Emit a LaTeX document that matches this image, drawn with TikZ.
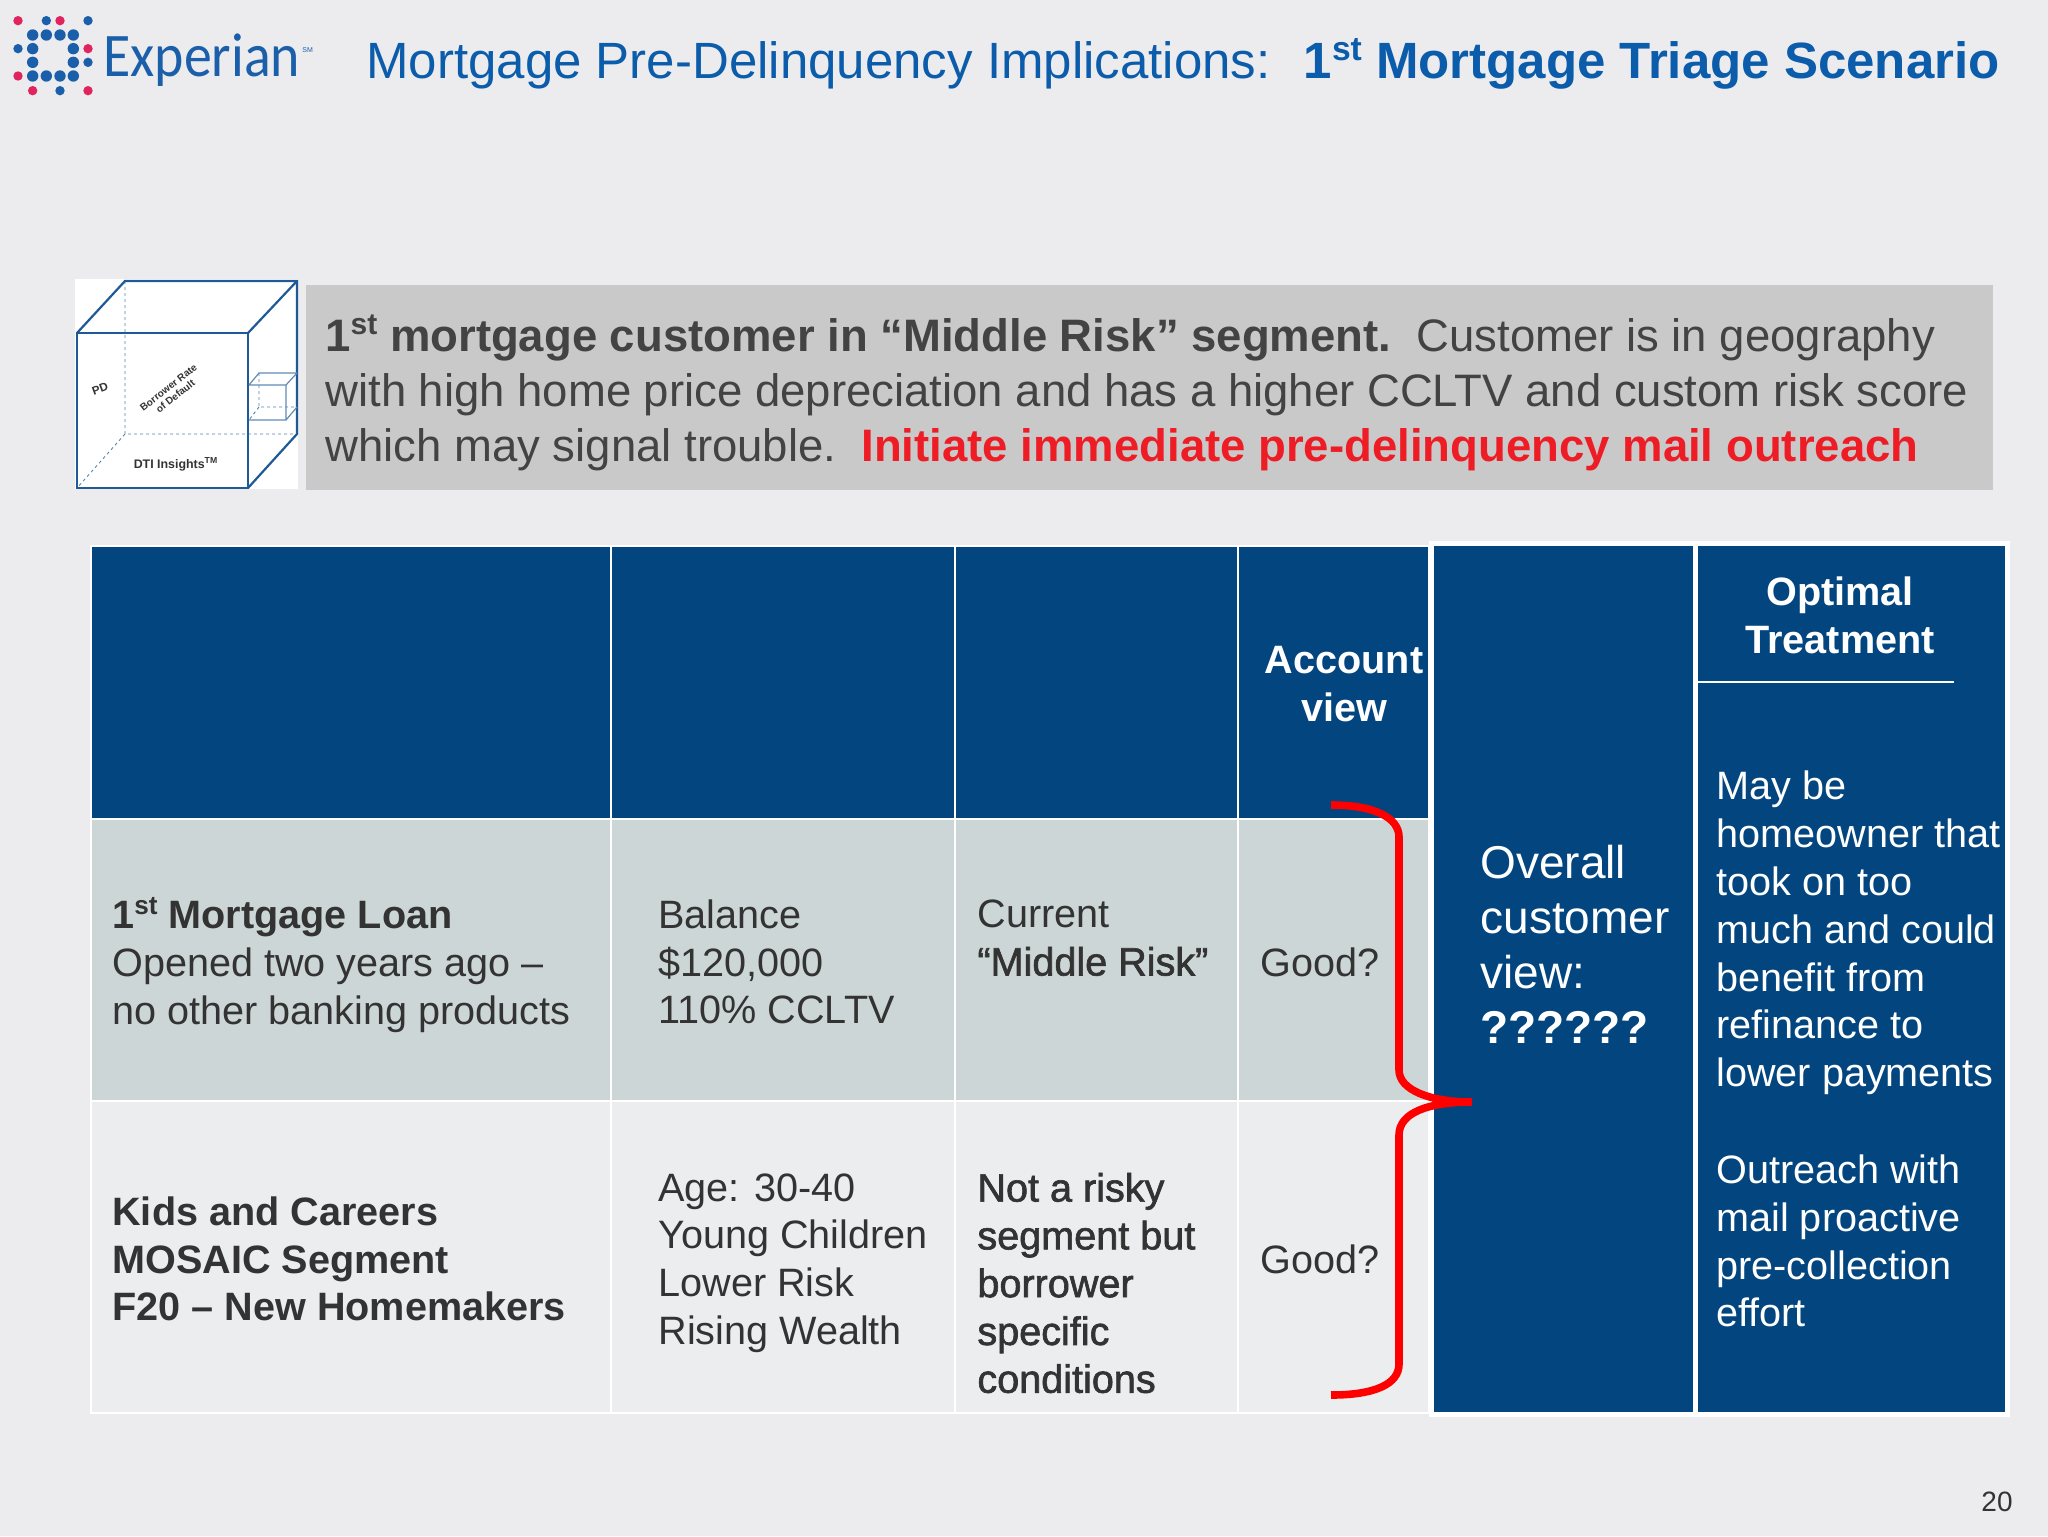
\documentclass[tikz,border=0pt]{standalone}
\usepackage{fontspec}
\usepackage{graphicx}
\setmainfont{Liberation Sans}
\newfontfamily\fakeb[FakeBold=1.6]{Liberation Sans}
\newfontfamily\logof{Carlito}
\usetikzlibrary{calc}
\definecolor{bgc}{HTML}{ECECEE}
\definecolor{navy}{HTML}{03457F}
\definecolor{bannerc}{HTML}{C9C9CA}
\definecolor{rowa}{HTML}{CDD6D6}
\definecolor{rowb}{HTML}{ECEDEF}
\definecolor{txt}{HTML}{333333}
\definecolor{ttl}{HTML}{0B5CAB}
\definecolor{logob}{HTML}{1B5FAA}
\definecolor{logor}{HTML}{E0245E}
\definecolor{cube}{HTML}{1F5A96}
\definecolor{redt}{HTML}{EE1C25}
\newcommand{\sts}[1]{\raisebox{0.36em}{\scalebox{0.66}{#1}}}
\tikzset{
 x=0.5pt,y=-0.5pt,
 cell/.style={draw=white,line width=1.4pt},
 tbl/.style={anchor=west,align=left,inner sep=0,text=txt,font=\fontsize{19.8}{23.9}\selectfont},
 hdr/.style={anchor=center,align=center,inner sep=0,text=white,font=\fontsize{19.8}{23.9}\selectfont\bfseries},
 wht/.style={anchor=west,align=left,inner sep=0,text=white,font=\fontsize{19.8}{23.9}\selectfont},
 big/.style={anchor=west,align=left,inner sep=0,text=white,font=\fontsize{23}{27.5}\selectfont},
 ban/.style={anchor=west,align=left,inner sep=0,text=txt!92!white,font=\fontsize{22.75}{27.5}\selectfont},
 bluedot/.style={fill=logob,draw=none,circle,inner sep=0,minimum size=#1},
 reddot/.style={fill=logor,draw=none,circle,inner sep=0,minimum size=4.7pt},
 cubeline/.style={draw=cube,line width=1.1pt},
 cubethin/.style={draw=cube!70!white,line width=0.6pt},
 cubedash/.style={draw=cube!75!white,line width=0.45pt,dash pattern=on 1.5pt off 1.5pt},
 brace/.style={draw=red,line width=3.8pt},
}
\begin{document}
\begin{tikzpicture}
\useasboundingbox (0,0) rectangle (2048,1536);
\fill[bgc] (0,0) rectangle (2048,1536);
% logo
\foreach \a/\b [count=\i] in {98/105,139/105,180/105,220/105,98/146,220/146,98/187,220/187,98/228,139/228,180/228,220/228}
  \node[bluedot=5.7pt] (lb\i) at ({\a/3},{\b/3}) {};
\foreach \a/\b [count=\i] in {139/62,264/62,54/146,264/187,180/272}
  \node[bluedot=4.7pt] (ls\i) at ({\a/3},{\b/3}) {};
\foreach \a/\b [count=\i] in {54/62,180/62,264/146,54/228,98/272,264/272}
  \node[reddot] (lr\i) at ({\a/3},{\b/3}) {};
\node[anchor=base west,inner sep=0,text=logob,font=\logof\fontsize{31}{31}\selectfont] (logo) at (103,76) {\scalebox{0.9}[1]{Experian}};
\node[anchor=west,inner sep=0,text=logob,font=\fontsize{3.5}{4}\selectfont] (sm) at (302,50) {SM};
% title
\node[anchor=base west,inner sep=0,text=ttl,font=\fontsize{25.5}{30}\selectfont] (title) at (366,79) {Mortgage Pre-Delinquency Implications:};
\node[anchor=base east,inner sep=0,text=ttl,font=\fontsize{25.5}{30}\selectfont\bfseries] (title2) at (2000,79) {1\sts{st} Mortgage Triage Scenario};
% cube
\fill[white] (75,279) rectangle (298,489);
\fill[bannerc] (306,285) rectangle (1993,490);
\coordinate (fa) at (77,333); \coordinate (fb) at (248,333); \coordinate (fc) at (248,488); \coordinate (fd) at (77,488);
\coordinate (ba) at (125,281); \coordinate (bb) at (297,281); \coordinate (bc) at (297,434); \coordinate (bd) at (125,434);
\draw[cubedash] (ba) -- (bd) -- (bc) (bd) -- (fd);
\draw[cubeline] (fa) -- (fb) -- (fc) -- (fd) -- cycle;
\draw[cubeline] (fa) -- (ba) -- (bb) -- (bc) -- (fc) (fb) -- (bb);
\coordinate (sa) at (249,385); \coordinate (sb) at (286,385); \coordinate (sc) at (286,420); \coordinate (sd) at (249,420);
\coordinate (ta) at (259,373); \coordinate (tb) at (297,373); \coordinate (tc) at (297,407); \coordinate (td) at (259,407);
\draw[cubethin] (sa) -- (sb) -- (sc) -- (sd) (sa) -- (ta) -- (tb) (sb) -- (tb) (sc) -- (tc);
\draw[cubedash] (ta) -- (td) -- (tc) (td) -- (sd);
\node[inner sep=0,rotate=20,text=txt,font=\fontsize{5.8}{6}\selectfont\bfseries] (pd) at (100,389) {PD};
\node[inner sep=0,rotate=38,align=center,text=txt,font=\fontsize{5}{5.6}\selectfont\bfseries] (brd) at (172,392) {Borrower Rate\\of Default};
\node[inner sep=0,text=txt,font=\fontsize{6.2}{6.5}\selectfont\bfseries] (dti) at (176,464) {DTI Insights\textsuperscript{TM}};
% banner text
\node[ban] (bantext) at (325,393) {\textbf{1\sts{st} mortgage customer in “Middle Risk” segment.}\ \ Customer is in geography\\with high home price depreciation and has a higher CCLTV and custom risk score\\which may signal trouble.\ \ \textcolor{redt}{\textbf{Initiate immediate pre-delinquency mail outreach}}};
% table
\fill[white] (1429,541) rectangle (2010,1417);
\foreach \x/\X [count=\i] in {91/611,611/955,955/1238,1238/1429}{
  \path[cell,fill=navy] (\x,546) rectangle (\X,819);
  \path[cell,fill=rowa] (\x,819) rectangle (\X,1101);
  \path[cell,fill=rowb] (\x,1101) rectangle (\X,1413);
}
\fill[navy] (1434,546) rectangle (1693,1412);
\fill[navy] (1698,546) rectangle (2005,1412);
% table text
\node[hdr] (acct) at (1344,684) {Account\\view};
\node[tbl] (r1a) at (112,965) {\textbf{1\sts{st} Mortgage Loan}\\Opened two years ago --\\no other banking products};
\node[tbl] (r1b) at (658,962) {Balance\\\$120,000\\110\% CCLTV};
\node[tbl] (r1c) at (977,938) {Current\\{\fakeb “Middle Risk”}};
\node[tbl] (r1d) at (1260,962) {Good?};
\node[tbl,font=\fontsize{19.8}{23.9}\selectfont\bfseries] (r2a) at (112,1259) {Kids and Careers\\MOSAIC Segment\\F20 -- New Homemakers};
\node[tbl] (r2b) at (658,1263) {Age: 30-40\\Young Children\\Lower Risk\\Rising Wealth};
\node[tbl,font=\fontsize{19.8}{23.9}\selectfont\fakeb] (r2c) at (977,1283) {Not a risky\\segment but\\borrower\\specific\\conditions};
\node[tbl] (r2d) at (1260,1259) {Good?};
\node[big] (overall) at (1480,944) {Overall\\customer\\view:\\\textbf{??????}};
\node[hdr] (opt) at (1840,615) {Optimal\\Treatment};
\coordinate (rl) at (1698,682); \coordinate (rr) at (1954,682);
\draw[white,line width=0.8pt] (rl) -- (rr);
\node[wht] (t1) at (1716,933) {May be\\homeowner that\\took on too\\much and could\\benefit from\\refinance to\\lower payments};
\node[wht] (t2) at (1716,1241) {Outreach with\\mail proactive\\pre-collection\\effort};
% brace
\coordinate (b1) at (1331,805); \coordinate (b2) at (1399,837); \coordinate (b3) at (1399,1070);
\coordinate (b4) at (1472,1102); \coordinate (b5) at (1399,1135); \coordinate (b6) at (1399,1364); \coordinate (b7) at (1331,1395);
\draw[brace] (b1) .. controls (1375,805) and (1399,818) .. (b2) -- (b3) .. controls (1399,1090) and (1430,1102) .. (b4)
  .. controls (1430,1102) and (1399,1112) .. (b5) -- (b6) .. controls (1399,1384) and (1375,1395) .. (b7);
\node[anchor=east,inner sep=0,text=txt,font=\fontsize{14}{16}\selectfont] (page) at (2013,1502) {20};
\end{tikzpicture}
\end{document}
